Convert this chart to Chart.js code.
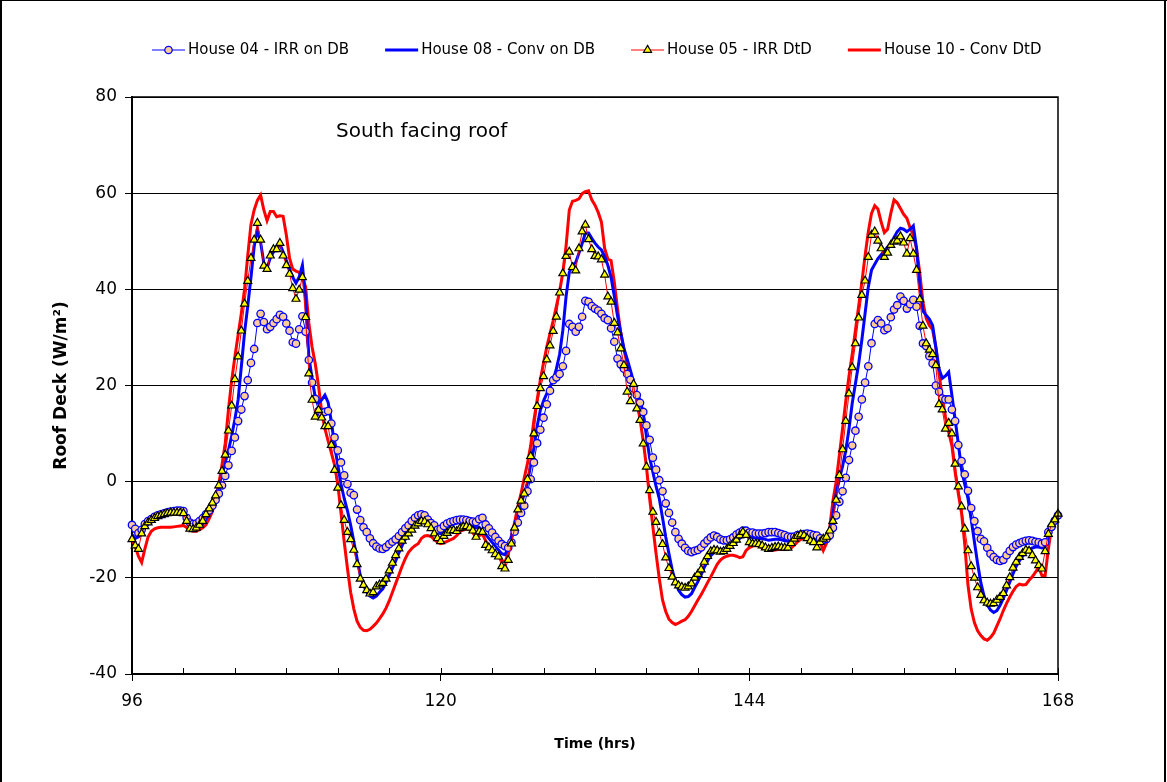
<!DOCTYPE html>
<html>
<head>
<meta charset="utf-8">
<title>Roof Deck - South facing roof</title>
<script src="https://cdn.jsdelivr.net/npm/chart.js@4.4.1/dist/chart.umd.min.js"></script>
<style>
  html, body { margin: 0; padding: 0; background: #fff; }
  #wrap { width: 1167px; height: 782px; }
</style>
</head>
<body>
<div id="wrap"><canvas id="roofChart" width="1167" height="782"></canvas></div>
<script>
"use strict";

// Quarter-hour readings, 96 h to 168 h (289 values per house)
const firstHour = 96;
const lastHour = 168;
const stepHours = 0.25;

const xLabelHours = [96, 120, 144, 168];
const yTickValues = [-40, -20, 0, 20, 40, 60, 80];

const house04 = [
  -9, -9.8, -10.7, -10, -8.8, -8.2, -7.8, -7.3, -7, -6.8, -6.6, -6.4, -6.2, -6.1, -6, -6, -6.1, -7.5, -8.5, -8.8, -8.7, -8.2, -7.6, -6.8,
  -6, -5, -3.8, -2.5, -0.8, 1.2, 3.4, 6.4, 9.2, 12.6, 15, 17.8, 21.1, 24.7, 27.6, 33, 34.9, 33.2, 31.7, 32.2, 33, 33.8, 34.7, 34.3,
  32.9, 31.4, 29, 28.7, 31.7, 34.4, 31.2, 25.3, 20.6, 17.2, 14.7, 14.3, 14.5, 14.7, 12.1, 9.2, 6.5, 4, 1.3, -0.5, -2.3, -2.8, -5.8, -8,
  -9.5, -10.5, -11.8, -12.8, -13.5, -13.9, -14, -13.6, -13, -12.5, -12, -11.3, -10.5, -9.7, -9.1, -8.2, -7.5, -7, -6.8, -7, -7.9, -8.6, -9.1, -10,
  -9.8, -9.2, -8.7, -8.4, -8.2, -8, -7.9, -7.9, -8, -8.2, -8.3, -8.4, -7.8, -7.5, -8.9, -9.7, -10.6, -11.5, -12.3, -13, -13.4, -13.75, -12.6, -10.4,
  -8.5, -6.5, -5, -2, 0.5, 4, 8, 10.8, 13.3, 16.1, 18.9, 21.1, 21.7, 22.4, 24, 27.2, 32.8, 32.2, 31.2, 32.2, 34.3, 37.6, 37.4, 36.5,
  36, 35.6, 34.9, 34, 33.6, 31.9, 29.1, 25.6, 24.4, 23.5, 22.4, 21.2, 19.4, 18, 16.4, 14.5, 11.7, 8.7, 5, 2.5, 0.3, -2, -4.5, -6.5,
  -8.5, -10.5, -11.9, -12.9, -13.75, -14.4, -14.65, -14.4, -14.2, -13.7, -12.9, -12.2, -11.6, -11.2, -11.5, -12, -12.2, -12.2, -12, -11.6, -11, -10.6, -10.2, -10.2,
  -10.6, -10.6, -10.8, -10.8, -10.8, -10.7, -10.5, -10.5, -10.5, -10.7, -10.9, -11.1, -11.4, -11.5, -11.4, -11.1, -11, -10.9, -10.8, -10.9, -11.1, -11.2, -11.8, -12.1,
  -11.9, -11.2, -9.6, -7, -4.2, -2, 0.8, 4.5, 7.5, 10.6, 13.5, 17.1, 20.6, 24, 28.8, 32.8, 33.6, 32.9, 31.5, 31.9, 34.2, 35.8, 36.7, 38.5,
  37.6, 36, 36.9, 37.8, 36.4, 32.4, 28.75, 28.2, 26.1, 24.6, 20, 18.7, 17.3, 17.1, 17.1, 15, 12.6, 7.6, 4.3, 1.5, -1.9, -5.5, -8.2, -10.3,
  -11.9, -12.4, -13.75, -15, -15.7, -16.25, -16.5, -16.25, -15.3, -14.4, -13.6, -13.1, -12.8, -12.5, -12.3, -12.2, -12.3, -12.5, -12.6, -12.9, -12.6, -10.5, -9.4, -8.1,
  -7
];

const house08 = [
  -11, -11.8, -11.5, -10.2, -9, -8.5, -8, -7.7, -7.4, -7.2, -7, -6.9, -6.8, -6.7, -6.6, -6.6, -6.8, -8, -9.2, -9.8, -9.8, -9.4, -8.8, -7.8,
  -6.6, -5, -3.2, -1, 1.5, 4, 6.5, 9.5, 13, 17, 23.9, 31, 36.5, 42.5, 48.9, 52.5, 49.8, 45.5, 44.4, 46.5, 47.8, 48.5, 49.4, 47.8,
  46, 44.2, 42.5, 41.3, 42.6, 45, 38, 26, 21.5, 17.5, 16.3, 17, 18, 16.5, 12.5, 7.5, 3.5, -0.5, -3.5, -6, -9, -12.5, -16, -19.5,
  -21.5, -23, -23.8, -24.2, -23.8, -23, -22.3, -21, -19.5, -18, -16.5, -14.8, -13.3, -12, -10.8, -10, -9.3, -8.7, -8.2, -8.3, -8.8, -9.4, -10, -10.6,
  -10.8, -10.2, -9.5, -9, -8.8, -8.6, -8.5, -8.5, -8.6, -8.8, -9.2, -9.6, -9.5, -10.3, -11, -11.8, -12.6, -13.4, -14.2, -15, -15.2, -13.8, -11.5, -9.2,
  -7, -4.8, -2.5, -0.2, 3.5, 7, 11.5, 14.9, 16.8, 18.3, 19.8, 21.1, 23.5, 26.5, 31.5, 38.5, 43.5, 45, 45.6, 47.5, 49.5, 51.7, 51.7, 50.6,
  49.6, 48.8, 48.2, 46.8, 45, 42.5, 38.6, 34.5, 31, 27.7, 25.5, 23.2, 20.8, 18.3, 17, 14.2, 9.5, 5, 2, -1, -3.5, -7.5, -11.5, -15,
  -18.3, -20.8, -22.6, -23.5, -24, -23.9, -23.3, -22, -20.8, -19.4, -17.8, -16.5, -15.4, -14.7, -14.3, -14.1, -14, -13.9, -13.4, -13, -12.6, -11.8, -11.2, -11.3,
  -11.5, -11.6, -11.7, -11.8, -11.9, -12, -12.2, -12.1, -12, -12, -12.1, -12.3, -12.4, -12.1, -11.7, -11.4, -11.3, -11.4, -11.6, -11.9, -12.1, -12.3, -12.2, -12.3,
  -12.2, -10, -6.7, -2.5, 0.5, 3.2, 6.5, 11, 16.3, 20.4, 24.5, 29.5, 35, 40.5, 44, 45.2, 46.4, 47.2, 48, 48.8, 49.6, 50.8, 52, 52.7,
  52.5, 52, 52.5, 53.2, 48.5, 41, 35.5, 34.6, 33.8, 32.5, 28, 23.5, 21.5, 22, 22.8, 18, 13, 7.9, 2.5, -0.5, -3.5, -7.8, -12.5, -17,
  -21, -23.8, -25.6, -26.7, -27.2, -26.8, -25.7, -24.3, -22.6, -20.9, -19.2, -17.6, -16.5, -15.5, -14.7, -14.1, -13.8, -13.6, -13.6, -13.8, -13.5, -11.5, -9.6, -8.1,
  -7
];

const house05 = [
  -12, -13.3, -14, -10.8, -9.3, -8.5, -8, -7.6, -7.2, -7, -6.8, -6.6, -6.5, -6.5, -6.5, -6.5, -6.6, -8.2, -9.8, -9.9, -9.6, -9, -8.2, -6.8,
  -5.6, -4.4, -2.9, -0.8, 2.2, 5.6, 10.6, 15.8, 21.3, 26, 31.4, 37, 41.7, 46.5, 50.3, 53.8, 50.3, 44.9, 44.2, 47, 48.3, 48.3, 49.6, 47,
  45, 43.2, 40.2, 38, 39.9, 42.5, 34.2, 22.5, 17, 13.5, 14.9, 13.3, 11.5, 11.5, 7.6, 2.4, -1.3, -4.9, -8, -10.5, -12, -14.2, -17.2, -20.2,
  -21.5, -22.6, -23.3, -23, -21.8, -21.4, -21.1, -20.2, -18.5, -16.9, -15.3, -13.9, -12.3, -11.5, -10.8, -10, -9.2, -8.7, -8.2, -8.3, -8.9, -9.7, -10.8, -11.8,
  -12.4, -11.3, -10.7, -10.2, -10.1, -10.3, -9.7, -9.4, -9.3, -9.6, -10.2, -11.5, -10.4, -10.5, -13.2, -13.7, -14.3, -15.1, -15.6, -17.6, -18.1, -16.3, -12.9, -9.6,
  -5.8, -4, -2.5, 0.5, 5.3, 10, 15.7, 19.4, 21.9, 25.4, 28.3, 31.3, 34.3, 39.3, 43.3, 46.9, 47.8, 44.6, 43.9, 48.5, 52, 53.4, 50.4, 48.3,
  46.9, 46.8, 46.2, 43, 38.5, 37.4, 33, 31, 27.7, 24.2, 18.7, 16.7, 20.3, 15.2, 12.8, 7.9, 3.1, -1.8, -6.3, -8.4, -10.7, -13, -15.8, -18,
  -19.8, -21, -21.6, -21.9, -22.1, -21.8, -21.2, -20, -19.2, -18.3, -16.7, -15.5, -14.5, -14.2, -14.3, -14.6, -14.5, -14, -13.4, -12.8, -12.1, -11.2, -10.5, -11.1,
  -12.6, -12.9, -12.9, -13, -13.3, -13.7, -14, -13.8, -13.6, -13.5, -13.7, -13.75, -13.75, -12.8, -11.9, -11.3, -11, -11.2, -11.8, -12.3, -12.6, -13.7, -12.6, -11.9,
  -11.5, -10.2, -8.2, -3.8, 1.3, 6.7, 12.6, 18.3, 23.75, 28.75, 34.1, 38.8, 41.8, 46.7, 51.3, 52, 50.1, 48.5, 46.7, 47.6, 49.2, 49.9, 50.1, 51,
  49.7, 47.4, 50.6, 47.4, 44, 37.9, 32.4, 28.75, 27.4, 26.5, 24.2, 16.1, 15, 11, 12.2, 10, 3.7, -1, -5.2, -9.8, -14.3, -17.6, -20, -22,
  -23.6, -24.7, -25.2, -25.4, -25.3, -24.6, -24, -23.2, -21.6, -19.9, -17.9, -16.7, -15.7, -14.9, -14.2, -14.4, -15.3, -16.4, -17.4, -18.1, -14.5, -10.9, -8.9, -7.9,
  -6.7
];

const house10 = [
  -12, -13.5, -15.5, -16.8, -14, -11.5, -10.3, -9.8, -9.6, -9.5, -9.5, -9.5, -9.5, -9.4, -9.3, -9.2, -9.1, -9.5, -10.1, -10.3, -10.3, -10, -9.6, -9,
  -7.7, -6.2, -3.5, -0.5, 3.5, 8, 15, 21, 26, 30.5, 35, 40, 47, 53.5, 56.5, 58.5, 59.6, 56.5, 54.3, 56.2, 56.2, 55.1, 55.3, 55.2,
  51.3, 46.5, 44.2, 43.8, 43.5, 42.6, 40.5, 33, 28, 24.5, 20, 14.5, 11, 8.5, 6, 3.5, -0.5, -6.5, -12.5, -18, -23, -26.5, -29, -30.3,
  -30.9, -31, -30.7, -30.1, -29.4, -28.5, -27.5, -26.3, -24.8, -23, -21.2, -19.4, -17.6, -16, -14.7, -13.9, -13.3, -12.9, -11.8, -11.3, -11.2, -11.4, -12, -12.6,
  -12.9, -12.7, -12.4, -12.1, -11.8, -11.2, -10.4, -10, -9.8, -10, -10.6, -11.6, -11.2, -10.9, -12.3, -13.3, -14, -14.8, -15.6, -16.4, -16.7, -15, -11.2, -8.5,
  -5.2, -2.5, 0.8, 3.8, 7.5, 12.8, 17, 21.2, 24.7, 28, 30.8, 33.5, 36.5, 39.6, 43.5, 49, 56.5, 58.3, 58.5, 58.8, 59.9, 60.3, 60.5, 58.6,
  57.5, 56, 54, 48.5, 46.3, 46, 41.5, 36, 31, 27.5, 24.5, 22, 19.5, 17, 13, 8.5, 3.1, -3.5, -9.4, -15, -20.2, -24.6, -27, -28.6,
  -29.3, -29.7, -29.4, -29, -28.7, -28, -27, -25.8, -24.6, -23.5, -22.3, -21, -19.8, -18.5, -17.2, -16.3, -15.8, -15.5, -15.3, -15.3, -15.5, -15.8, -15.6, -14.3,
  -13.7, -13.4, -13.3, -13.4, -13.7, -14, -14.3, -14.3, -14.2, -14.1, -14.1, -14, -14, -13.8, -13.2, -12.5, -12, -11.8, -11.9, -12.1, -12.3, -12.3, -12.5, -14.3,
  -12.8, -9.5, -4, 0, 5.5, 11, 16.8, 22, 26.5, 31.5, 36.5, 41.5, 47, 52, 55.8, 57.4, 56.7, 54, 51.8, 52.5, 55.8, 58.6, 58, 56.8,
  55.6, 54.8, 52.8, 51.3, 48.5, 43.5, 37.3, 34, 32.5, 31.6, 28, 22.5, 17.5, 13.5, 10.3, 7.5, 2, -2.5, -6.5, -13, -21.5, -26.5, -29.3, -31,
  -32, -32.7, -33, -32.4, -31.5, -30, -28.5, -26.8, -25.3, -24, -22.8, -21.8, -21.3, -21.5, -21.4, -20.5, -19.8, -18.8, -17.8, -19.5, -19.5, -14, -9.4, -8,
  -7.2
];

const hours = [];
for (let h = firstHour; h <= lastHour; h += stepHours) hours.push(h);

function toPoints(values) {
  return values.map((v, i) => ({ x: hours[i], y: v }));
}

const FONT = '"DejaVu Sans", "Liberation Sans", Arial, sans-serif';

// legend row, chart title and frame lines drawn on top of Chart.js output
const extrasPlugin = {
  id: 'extras',
  afterDraw(chart) {
    const ctx = chart.ctx;
    const area = chart.chartArea;
    const xScale = chart.scales.x;
    ctx.save();

    // plot box: top and right edges
    ctx.strokeStyle = '#000';
    ctx.lineWidth = 1.5;
    ctx.beginPath();
    ctx.moveTo(area.left, area.top);
    ctx.lineTo(area.right, area.top);
    ctx.lineTo(area.right, area.bottom);
    ctx.stroke();

    // inside tick marks every 4 h along the time axis
    ctx.lineWidth = 1;
    xScale.ticks.forEach(t => {
      const px = Math.round(xScale.getPixelForValue(t.value)) + 0.5;
      ctx.beginPath();
      ctx.moveTo(px, area.bottom);
      ctx.lineTo(px, area.bottom - 6);
      ctx.stroke();
    });

    // outer border of the chart
    ctx.fillStyle = '#000';
    ctx.fillRect(0, 0, 2, chart.height);
    ctx.fillRect(0, 0, chart.width, 1);
    ctx.fillRect(chart.width - 3, 0, 2, chart.height);

    // chart title inside the plot
    ctx.font = '20px ' + FONT;
    ctx.textBaseline = 'middle';
    ctx.textAlign = 'left';
    ctx.fillText('South facing roof', area.left + 204, area.top + 35);

    // legend
    ctx.font = '15px ' + FONT;
    let x = 152;
    const y = 50;
    const iconW = 33;
    chart.data.datasets.forEach(ds => {
      ctx.strokeStyle = ds.borderColor;
      ctx.lineWidth = ds.borderWidth;
      ctx.beginPath();
      ctx.moveTo(x, y);
      ctx.lineTo(x + iconW, y);
      ctx.stroke();
      if (ds.pointRadius > 0) {
        ctx.fillStyle = ds.pointBackgroundColor;
        ctx.strokeStyle = ds.pointBorderColor;
        ctx.lineWidth = ds.pointBorderWidth;
        Chart.helpers.drawPoint(ctx, {
          pointStyle: ds.pointStyle, radius: ds.pointRadius, rotation: 0,
          borderWidth: ds.pointBorderWidth
        }, x + iconW / 2, y);
      }
      ctx.fillStyle = '#000';
      ctx.fillText(ds.label, x + iconW + 3, y);
      x += iconW + 3 + ctx.measureText(ds.label).width + 36;
    });

    ctx.restore();
  }
};

const ctx = document.getElementById('roofChart').getContext('2d');
new Chart(ctx, {
  type: 'line',
  data: {
    datasets: [
      {
        label: 'House 04 - IRR on DB',
        data: toPoints(house04),
        borderColor: '#0000FF',
        borderWidth: 1,
        pointStyle: 'circle',
        pointRadius: 3.7,
        pointBackgroundColor: '#FFCC99',
        pointBorderColor: '#0000FF',
        pointBorderWidth: 1.3,
        order: 1,
        clip: false
      },
      {
        label: 'House 08 - Conv on DB',
        data: toPoints(house08),
        borderColor: '#0000FF',
        borderWidth: 3,
        pointRadius: 0,
        order: 2,
        clip: false
      },
      {
        label: 'House 05 - IRR DtD',
        data: toPoints(house05),
        borderColor: '#FF0000',
        borderWidth: 1,
        pointStyle: 'triangle',
        pointRadius: 4.6,
        pointBackgroundColor: '#FFFF00',
        pointBorderColor: '#000000',
        pointBorderWidth: 1.2,
        order: 0,
        clip: false
      },
      {
        label: 'House 10 - Conv DtD',
        data: toPoints(house10),
        borderColor: '#FF0000',
        borderWidth: 3,
        pointRadius: 0,
        order: 3,
        clip: false
      }
    ]
  },
  options: {
    responsive: false,
    animation: false,
    layout: { padding: { top: 97, right: 109, bottom: 0, left: 0 } },
    elements: { line: { tension: 0 } },
    plugins: {
      legend: { display: false },
      tooltip: { enabled: false }
    },
    scales: {
      x: {
        type: 'linear',
        min: firstHour,
        max: lastHour,
        afterFit(scale) { scale.height = 108; },
        ticks: {
          stepSize: 4,
          autoSkip: false,
          maxRotation: 0,
          padding: 10,
          color: '#000',
          font: { family: FONT, size: 17 },
          callback: v => (xLabelHours.includes(v) ? String(v) : '')
        },
        grid: {
          drawOnChartArea: false,
          tickLength: 7,
          color: c => (c.tick && xLabelHours.includes(c.tick.value) ? '#000' : 'rgba(0,0,0,0)')
        },
        border: { color: '#000', width: 2 },
        title: {
          display: true,
          text: 'Time (hrs)',
          color: '#000',
          font: { family: FONT, size: 14, weight: 'bold' },
          padding: { top: 0, bottom: 29 }
        }
      },
      y: {
        min: yTickValues[0],
        max: yTickValues[yTickValues.length - 1],
        afterFit(scale) { scale.width = 132; },
        afterBuildTicks(scale) { scale.ticks = yTickValues.map(v => ({ value: v })); },
        ticks: {
          padding: 8,
          color: '#000',
          font: { family: FONT, size: 17 }
        },
        grid: { color: '#000', lineWidth: 1, tickLength: 7 },
        border: { color: '#000', width: 2 },
        title: {
          display: true,
          text: 'Roof Deck (W/m\u00B2)',
          color: '#000',
          font: { family: FONT, size: 17, weight: 'bold' },
          padding: { top: 51, bottom: 0 }
        }
      }
    }
  },
  plugins: [extrasPlugin]
});
</script>
</body>
</html>
